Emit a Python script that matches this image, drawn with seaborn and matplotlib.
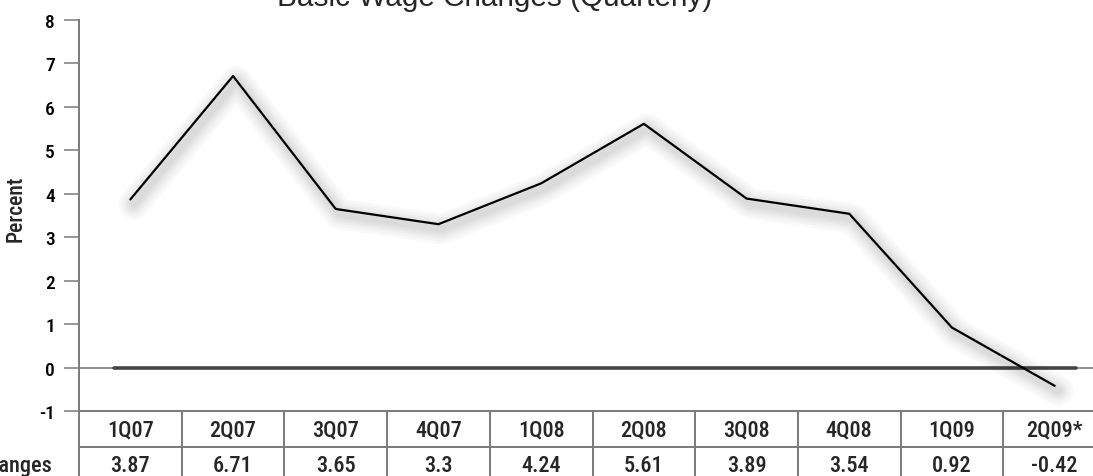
import matplotlib
matplotlib.use("Agg")
import matplotlib.pyplot as plt
import matplotlib.patheffects as pe
from matplotlib import font_manager
import seaborn as sns
import pandas as pd

# Quarterly basic wage changes (percent)
quarters = ["1Q07", "2Q07", "3Q07", "4Q07", "1Q08", "2Q08", "3Q08", "4Q08", "1Q09", "2Q09*"]
changes = [3.87, 6.71, 3.65, 3.3, 4.24, 5.61, 3.89, 3.54, 0.92, -0.42]
value_labels = ["3.87", "6.71", "3.65", "3.3", "4.24", "5.61", "3.89", "3.54", "0.92", "-0.42"]
y_ticks = [-1, 0, 1, 2, 3, 4, 5, 6, 7, 8]
row_label = "Changes"
title = "Basic Wage Changes (Quarterly)"

sns.set_style("white")

# pick a narrow gothic face for axis and table text
installed = {f.name for f in font_manager.fontManager.ttflist}
narrow = [n for n in ("Roboto Condensed", "Archivo Narrow", "PT Sans Narrow",
                      "IBM Plex Sans Condensed", "Liberation Sans Narrow") if n in installed]
plt.rcParams["font.family"] = narrow[:1] + ["DejaVu Sans"]
plt.rcParams["font.weight"] = "medium"

W, H = 1093, 477
fig = plt.figure(figsize=(W / 100, H / 100), dpi=100)
ax = fig.add_axes([79 / W, (H - 412) / H, 1027 / W, 391 / H])

df = pd.DataFrame({"quarter": quarters, "change": changes})
df["pos"] = range(len(quarters))

grid_col = "#7a7a7a"

# zero reference line: thin full-width plus a heavier inner segment
ax.axhline(0, color=grid_col, lw=1.2, zorder=1)
ax.axhline(0, xmin=0.034, xmax=0.971, color="#454545", lw=2.6, zorder=1)

# main series with a soft drop shadow
shadow = [
    pe.SimpleLineShadow(offset=(2.5, -3.5), shadow_color="#000000", alpha=0.022, linewidth=lw)
    for lw in (22, 18, 14, 11, 8, 5)
]
sns.lineplot(data=df, x="pos", y="change", color="black", lw=1.6, ax=ax,
             zorder=3, path_effects=shadow + [pe.Normal()])

ax.set_xlim(-0.5, len(quarters) - 0.5)
ax.set_ylim(-1, 8)
ax.set_yticks(y_ticks)
ax.set_yticklabels([str(t) for t in y_ticks], fontsize=14, fontweight="medium")
ax.set_xticks([])
ax.set_xlabel("")
ax.set_ylabel("Percent", fontsize=15.5, fontweight="medium")
ax.yaxis.set_label_coords(-0.051, 0.52)
ax.tick_params(axis="y", which="major", length=10.8, width=1.1, color=grid_col,
               pad=6.5, labelcolor="black", left=True)

for s in ("top", "right"):
    ax.spines[s].set_visible(False)
ax.spines["left"].set_color(grid_col)
ax.spines["left"].set_linewidth(1.4)
ax.spines["bottom"].set_color(grid_col)
ax.spines["bottom"].set_linewidth(1.4)

# data table under the plot
tr = ax.get_xaxis_transform()
row_h = 36 / 391
n = len(quarters)
ax.plot([-0.5, n - 0.5], [-row_h, -row_h], transform=tr, color=grid_col, lw=1.4, clip_on=False)
for i in range(n + 1):
    ax.plot([i - 0.5, i - 0.5], [0, -2.2 * row_h], transform=tr, color=grid_col,
            lw=1.4, clip_on=False)
for i, (q, v) in enumerate(zip(quarters, value_labels)):
    ax.text(i, -0.5 * row_h, q, transform=tr, ha="center", va="center", fontsize=16,
            fontweight="medium")
    ax.text(i, -1.5 * row_h, v, transform=tr, ha="center", va="center", fontsize=16,
            fontweight="medium")
ax.text(-0.5 - 26 / 102.7, -1.5 * row_h, row_label, transform=tr, ha="right",
        va="center", fontsize=16, fontweight="medium")

fig.text(495 / W, (H - 6) / H, title, ha="center", va="baseline", fontsize=21.4,
         family=["Liberation Sans", "DejaVu Sans"], fontweight="normal")

fig.savefig("out.png", dpi=100)
